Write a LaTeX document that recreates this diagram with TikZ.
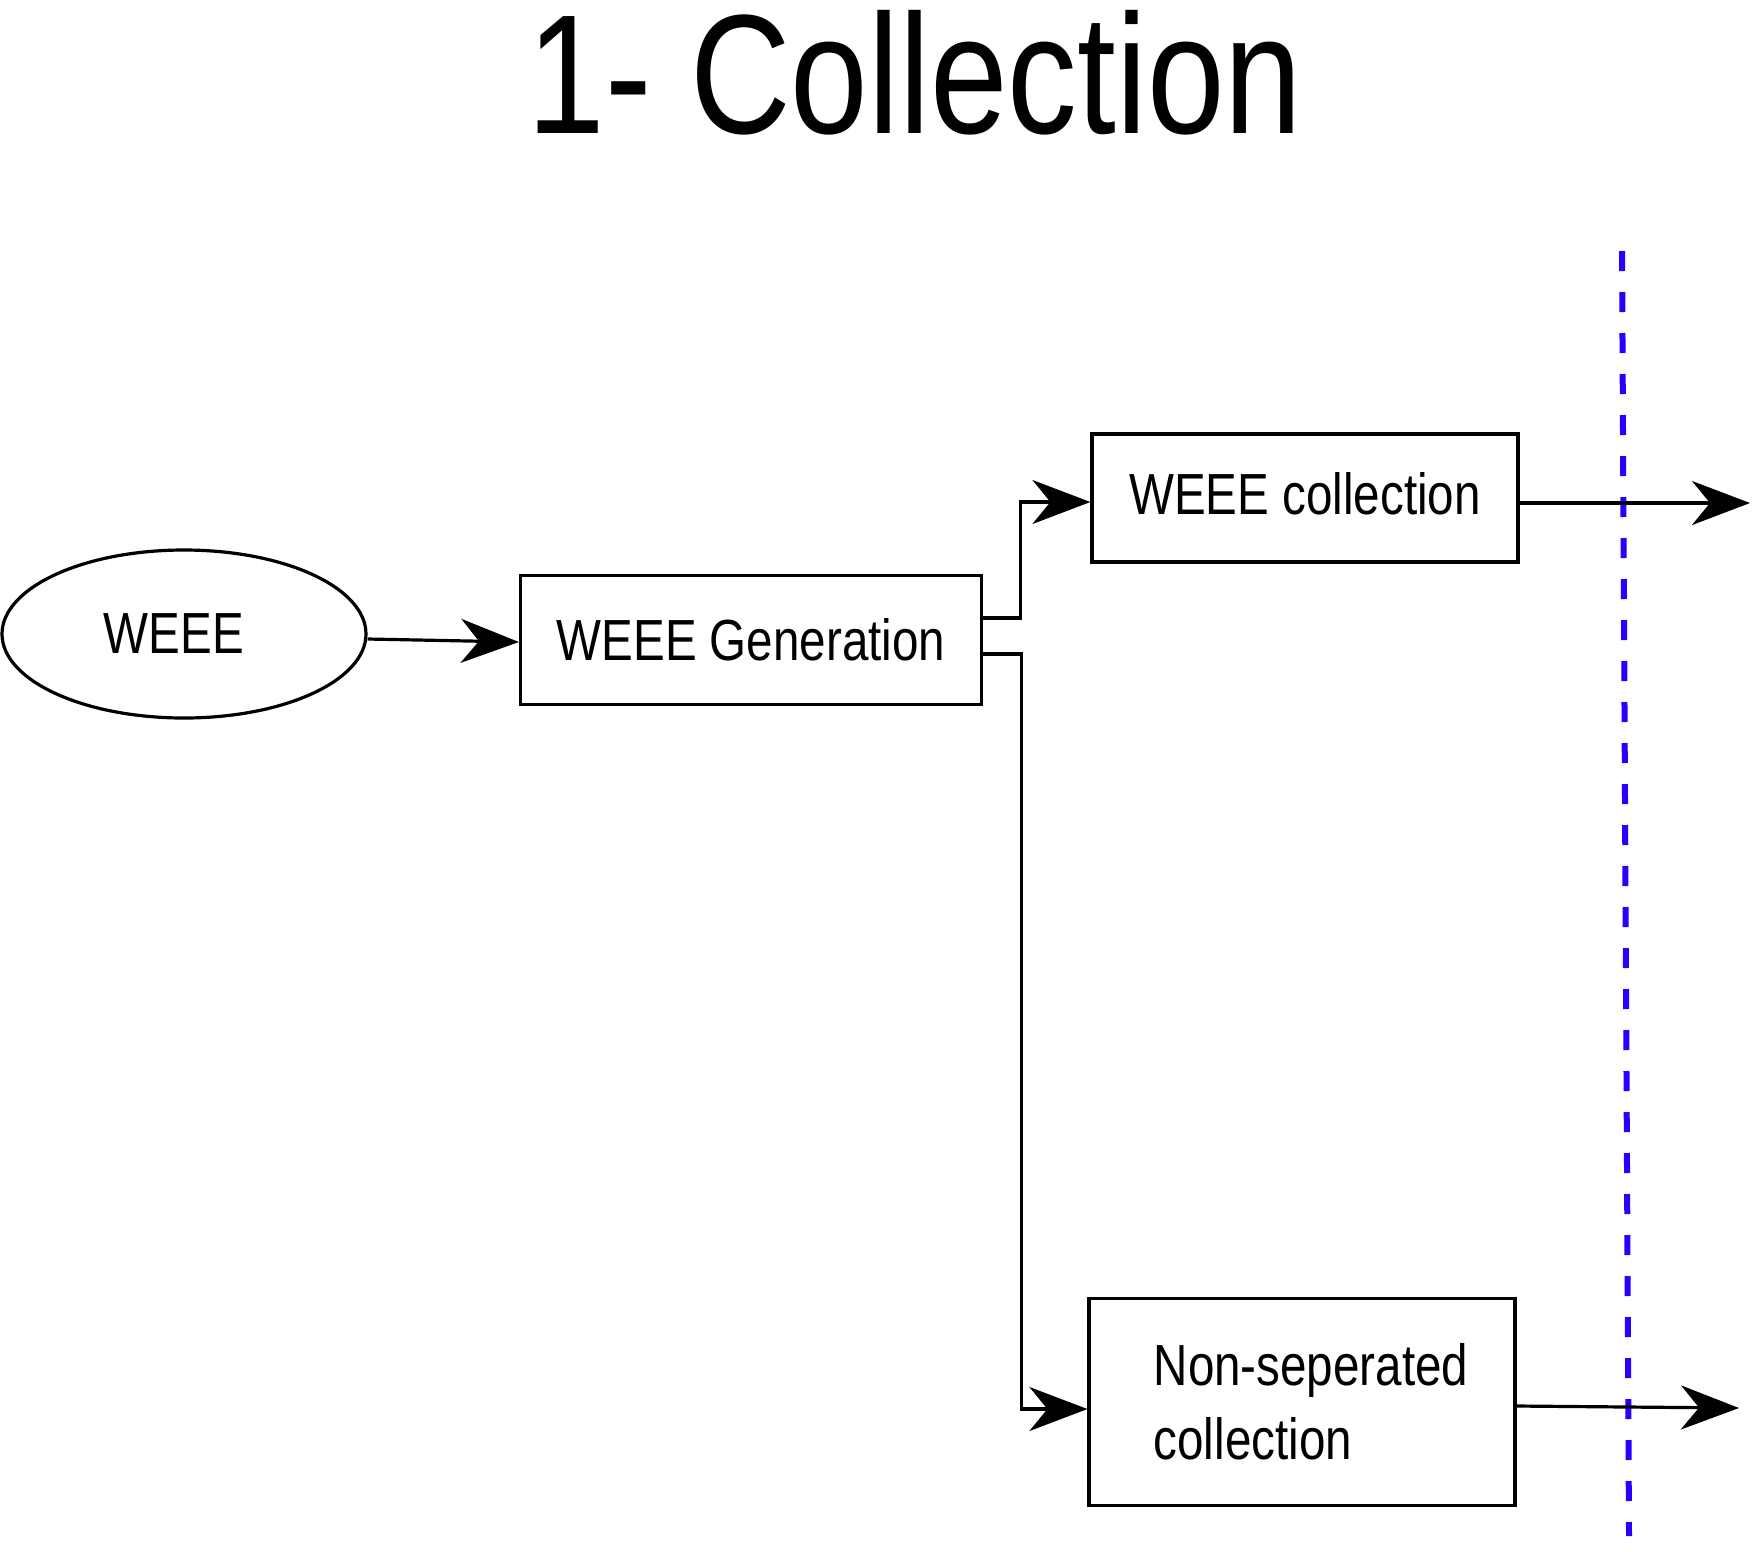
\documentclass[tikz,border=0pt]{standalone}
\usepackage{fontspec}
\setmainfont{Liberation Sans}[FakeStretch=0.82]
\usetikzlibrary{arrows.meta,shapes.geometric}
\definecolor{cutblue}{RGB}{40,0,255}

\begin{document}
\begin{tikzpicture}[x=1pt,y=-1pt,
    box/.style={draw,line width=3.2pt,inner sep=0pt,font=\fontsize{58}{74}\selectfont},
    flow/.style={line width=3.2pt,-{Stealth[length=58pt,width=44pt,inset=18pt]}}]
    \useasboundingbox (0,0) rectangle (1752,1551);

    % Title
    \node[anchor=base,inner sep=0pt,font=\fontsize{170}{170}\selectfont] (title) at (915,133) {1- Collection};

    % Source and generation
    \node[box,ellipse,minimum width=364pt,minimum height=168pt] (weee) at (184,634) {WEEE\hspace*{20pt}};
    \node[box,minimum width=461pt,minimum height=129pt] (gen) at (751,640) {WEEE Generation};

    % The two collection routes
    \node[box,minimum width=426pt,minimum height=128pt] (coll) at (1305,498) {\raisebox{9pt}{WEEE collection}};
    \node[box,align=left,minimum width=426pt,minimum height=207pt] (nonsep) at (1302,1402) {\hspace*{18pt}Non-seperated\\\hspace*{18pt}collection};

    % Free ends on the right
    \coordinate (out1) at (1750,503);
    \coordinate (out2) at (1739,1408);

    % System boundary
    \coordinate (cuttop) at (1622,251);
    \coordinate (cutbot) at (1629,1536);
    \draw[cutblue,line width=6pt,dash pattern=on 20pt off 21pt] (cuttop) -- (cutbot);

    % Edges
    \draw[flow] ([yshift=-5pt]weee.east) -- ([yshift=-2pt]gen.west);
    \draw[flow] ([yshift=22pt]gen.east) -- ++(37,0) |- ([yshift=-4pt]coll.west);
    \draw[flow] ([yshift=-14pt]gen.east) -- ++(38,0) |- ([yshift=-7pt]nonsep.west);
    \draw[flow] (coll.east |- out1) -- (out1);
    \draw[flow] ([yshift=-4pt]nonsep.east) -- (out2);
\end{tikzpicture}
\end{document}
